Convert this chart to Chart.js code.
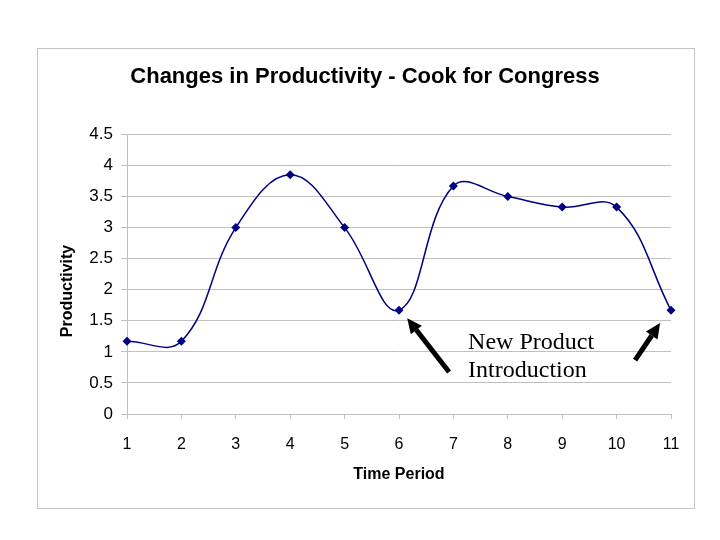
<!DOCTYPE html>
<html>
<head>
<meta charset="utf-8">
<title>Changes in Productivity - Cook for Congress</title>
<script src="https://cdn.jsdelivr.net/npm/chart.js"></script>
<style>
    html, body { margin: 0; padding: 0; background: #fff; }
    #wrap { position: relative; width: 720px; height: 540px; }
    #frame { position: absolute; left: 37px; top: 48px; width: 658px; height: 461px; box-sizing: border-box; border: 1px solid #c4c4c4; }
    #chart { position: absolute; left: 0; top: 0; }
</style>
</head>
<body>
<div id="wrap">
    <div id="frame"></div>
    <canvas id="chart" width="720" height="540"></canvas>
</div>
<script>
// DATA
const periods = [1, 2, 3, 4, 5, 6, 7, 8, 9, 10, 11];
const productivity = [1.17, 1.17, 3.0, 3.85, 3.0, 1.67, 3.67, 3.5, 3.33, 3.33, 1.67];
const yTicks = [0, 0.5, 1, 1.5, 2, 2.5, 3, 3.5, 4, 4.5];

// annotation: arrows in data units [tailX, tailY, tipX, tipY]
const arrows = [
    [6.92, 0.675, 6.15, 1.543],
    [10.34, 0.868, 10.80, 1.463]
];
const noteLines = ['New Product', 'Introduction'];
const noteX = 7.27;
const noteY = [1.045, 0.595];

const NAVY = '#000080';
const GRID = '#c0c0c0';

// draws the arrows, the note and the y title
const notes = {
    id: 'notes',
    afterDatasetsDraw(chart) {
        const { ctx, scales: { x, y } } = chart;
        ctx.save();
        ctx.fillStyle = '#000';
        ctx.strokeStyle = '#000';
        arrows.forEach(a => {
            const x0 = x.getPixelForValue(a[0]), y0 = y.getPixelForValue(a[1]);
            const x1 = x.getPixelForValue(a[2]), y1 = y.getPixelForValue(a[3]);
            const ang = Math.atan2(y1 - y0, x1 - x0);
            const head = 15, half = 7;
            const bx = x1 - head * Math.cos(ang), by = y1 - head * Math.sin(ang);
            ctx.lineWidth = 5;
            ctx.beginPath();
            ctx.moveTo(x0, y0);
            ctx.lineTo(bx, by);
            ctx.stroke();
            ctx.beginPath();
            ctx.moveTo(x1, y1);
            ctx.lineTo(bx + half * Math.sin(ang), by - half * Math.cos(ang));
            ctx.lineTo(bx - half * Math.sin(ang), by + half * Math.cos(ang));
            ctx.closePath();
            ctx.fill();
        });
        ctx.font = '24px "Liberation Serif", "Times New Roman", serif';
        ctx.textAlign = 'left';
        ctx.textBaseline = 'alphabetic';
        noteLines.forEach((t, i) => {
            ctx.fillText(t, x.getPixelForValue(noteX), y.getPixelForValue(noteY[i]));
        });
        // y axis title (sits a little below the plot centre in the original)
        ctx.font = 'bold 16px "Liberation Sans", Arial, sans-serif';
        ctx.textAlign = 'center';
        ctx.textBaseline = 'middle';
        ctx.translate(68, 291);
        ctx.rotate(-Math.PI / 2);
        ctx.fillText('Productivity', 0, 0);
        ctx.restore();
    }
};

Chart.defaults.font.family = '"Liberation Sans", Arial, sans-serif';
Chart.defaults.color = '#000';

new Chart(document.getElementById('chart'), {
    type: 'line',
    data: {
        datasets: [{
            data: periods.map((p, i) => ({ x: p, y: productivity[i] })),
            borderColor: NAVY,
            backgroundColor: NAVY,
            borderWidth: 1.5,
            tension: 0.4,
            pointStyle: 'rectRot',
            pointRadius: 4.5,
            pointBorderWidth: 0,
            clip: false,
            fill: false
        }]
    },
    options: {
        responsive: false,
        animation: false,
        layout: { padding: { left: 59, right: 49, top: 0, bottom: 0 } },
        plugins: {
            legend: { display: false },
            tooltip: { enabled: false },
            title: {
                display: true,
                text: 'Changes in Productivity - Cook for Congress',
                font: { size: 22, weight: 'bold' },
                padding: { top: 64, bottom: 44 }
            }
        },
        scales: {
            x: {
                type: 'linear',
                min: 1,
                max: 11,
                afterFit: s => { s.height = 126; },
                ticks: { stepSize: 1, font: { size: 16 }, padding: 16, maxRotation: 0 },
                grid: { drawOnChartArea: false, drawTicks: true, tickLength: 5, color: GRID },
                border: { color: GRID },
                title: { display: true, text: 'Time Period', font: { size: 16, weight: 'bold' }, padding: { top: 0, bottom: 56 } }
            },
            y: {
                min: 0,
                max: 4.5,
                afterFit: s => { s.width = 68; },
                afterBuildTicks: s => { s.ticks = yTicks.map(v => ({ value: v })); },
                ticks: { font: { size: 17 }, padding: 8, callback: v => String(v) },
                grid: { color: GRID, tickLength: 6 },
                border: { color: GRID }
            }
        }
    },
    plugins: [notes]
});
</script>
</body>
</html>
